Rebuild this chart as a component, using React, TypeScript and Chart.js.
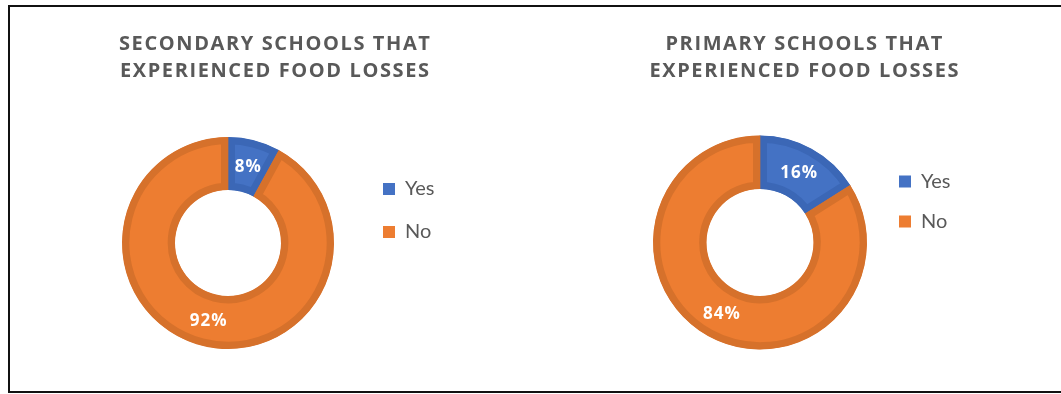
import React, { useEffect, useRef } from 'react';
import { Chart, registerables } from 'chart.js';

Chart.register(...registerables);

// ---- data ----
const categories = ['Yes', 'No'];
const secondaryValues = [8, 92];
const primaryValues = [16, 84];
const secondaryTitle = ['SECONDARY SCHOOLS THAT', 'EXPERIENCED FOOD LOSSES'];
const primaryTitle = ['PRIMARY SCHOOLS THAT', 'EXPERIENCED FOOD LOSSES'];
const fillColors = ['#4472C4', '#ED7D31'];
const edgeColors = ['#3B67B6', '#D6712B'];

// ---- layout (page pixels) ----
interface Spec {
  x: number;
  chartLeft: number;
  legendLeft: number;
  padBottom: number;
  titleGap: number;
  legendPad: number;
  firstItemCenter: number;
  titleShift: number;
}

const H = 394;
const LEGEND_FONT = 20;
const LEGEND_BOX = 12;
const TEXT_COLOR = '#595959';

const spec1: Spec = { x: 0, chartLeft: 96, legendLeft: 360, padBottom: 45, titleGap: 52, legendPad: 23, firstItemCenter: 189, titleShift: 5 };
const spec2: Spec = { x: 530, chartLeft: 641, legendLeft: 879, padBottom: 44.5, titleGap: 50.5, legendPad: 20, firstItemCenter: 181.5, titleShift: 4 };

function legendWidth(pad: number): number {
  const c = document.createElement('canvas').getContext('2d') as CanvasRenderingContext2D;
  c.font = `normal ${LEGEND_FONT}px Lato`;
  const tw = Math.max(...categories.map((t) => c.measureText(t).width));
  return pad + LEGEND_BOX + LEGEND_FONT / 2 + tw + 10;
}

function makeLabelPlugin(titleShift: number) {
  return {
    id: 'percentLabels',
    afterInit(chart: any) {
      const tb = chart.titleBlock;
      if (tb) {
        const orig = tb.draw.bind(tb);
        tb.draw = (area: any) => {
          const ctx = chart.ctx as any;
          ctx.save();
          ctx.letterSpacing = '1.6px';
          ctx.translate(titleShift, 0);
          orig(area);
          ctx.restore();
        };
      }
    },
    afterDatasetsDraw(chart: any) {
      const ctx = chart.ctx as any;
      const meta = chart.getDatasetMeta(0);
      const values = chart.data.datasets[0].data as number[];
      ctx.save();
      ctx.font = 'bold 17px "Open Sans"';
      ctx.letterSpacing = '1px';
      ctx.fillStyle = '#FFFFFF';
      ctx.textAlign = 'center';
      ctx.textBaseline = 'middle';
      meta.data.forEach((arc: any, i: number) => {
        const p = arc.tooltipPosition();
        ctx.fillText(`${values[i]}%`, p.x + 0.5, p.y + 1);
      });
      ctx.restore();
    },
  };
}

function Donut({ spec, values, title }: { spec: Spec; values: number[]; title: string[] }) {
  const ref = useRef<HTMLCanvasElement | null>(null);
  const lw = legendWidth(spec.legendPad);
  const innerRight = spec.legendLeft - spec.x + lw;
  const W = Math.ceil(innerRight) + 2;
  const padRight = W - innerRight;

  useEffect(() => {
    const canvas = ref.current;
    if (!canvas) return;
    const legendTitleH = spec.firstItemCenter - spec.legendPad - LEGEND_FONT / 2;
    const chart = new Chart(canvas, {
      type: 'doughnut',
      data: {
        labels: categories,
        datasets: [
          {
            data: values,
            backgroundColor: fillColors,
            borderColor: edgeColors,
            borderWidth: 7,
            borderAlign: 'inner',
          },
        ],
      },
      options: {
        responsive: false,
        animation: false,
        devicePixelRatio: 1,
        events: [],
        cutout: '50%',
        layout: {
          padding: { left: spec.chartLeft - spec.x, right: padRight, top: 0, bottom: spec.padBottom },
        },
        plugins: {
          tooltip: { enabled: false },
          title: {
            display: true,
            text: title,
            color: TEXT_COLOR,
            font: { family: '"Open Sans"', weight: 'bold', size: 20, lineHeight: '27px' },
            padding: { top: 31, bottom: spec.titleGap },
          },
          legend: {
            display: true,
            position: 'right',
            align: 'start',
            title: {
              display: true,
              text: '',
              font: { size: 10, lineHeight: 1 },
              padding: { top: legendTitleH - 10, bottom: 0 },
            },
            labels: {
              color: TEXT_COLOR,
              font: { family: 'Lato', size: LEGEND_FONT },
              boxWidth: LEGEND_BOX,
              boxHeight: LEGEND_BOX,
              padding: spec.legendPad,
              generateLabels: (c: any) =>
                (Chart as any).overrides.doughnut.plugins.legend.labels
                  .generateLabels(c)
                  .map((l: any) => ({ ...l, lineWidth: 0 })),
            },
          },
        },
      } as any,
      plugins: [makeLabelPlugin(spec.titleShift)],
    });
    chart.update('none');
    return () => chart.destroy();
  }, []);

  return (
    <canvas
      ref={ref}
      width={W}
      height={H}
      style={{ position: 'absolute', left: spec.x, top: 0, width: W, height: H }}
    />
  );
}

export default function App() {
  return (
    <div
      style={{
        position: 'fixed',
        left: 0,
        top: 0,
        width: 1061,
        height: 394,
        background: '#FFFFFF',
        overflow: 'hidden',
      }}
    >
      <div
        style={{
          position: 'absolute',
          left: 8,
          top: 5,
          width: 1200,
          height: 388,
          boxSizing: 'border-box',
          border: '2px solid #111111',
        }}
      />
      <Donut spec={spec1} values={secondaryValues} title={secondaryTitle} />
      <Donut spec={spec2} values={primaryValues} title={primaryTitle} />
    </div>
  );
}
